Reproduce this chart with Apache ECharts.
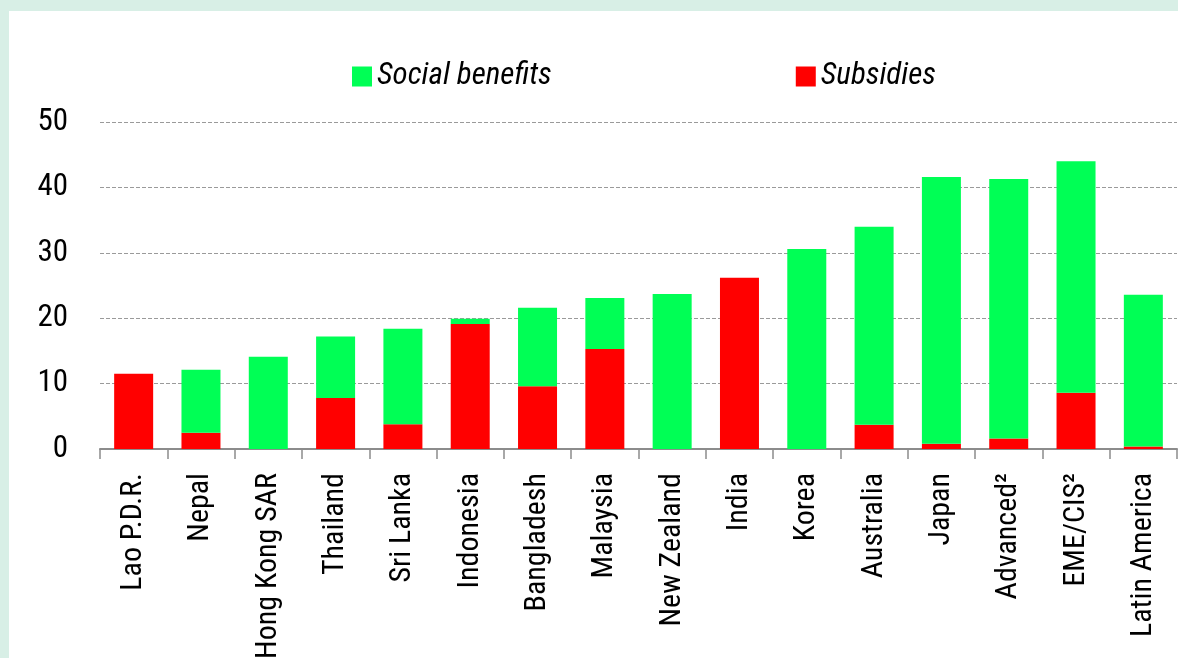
<!DOCTYPE html>
<html>
<head>
<meta charset="utf-8">
<script src="https://cdn.jsdelivr.net/npm/echarts@6/dist/echarts.min.js"></script>
<style>
  html, body { margin: 0; padding: 0; width: 1178px; height: 658px; background: #d8efe6; overflow: hidden; }
  #chart { position: absolute; left: 9px; top: 11px; width: 1169px; height: 647px; background: #ffffff; }
</style>
</head>
<body>
<div id="chart"></div>
<script>
const categories = ['Lao P.D.R.', 'Nepal', 'Hong Kong SAR', 'Thailand', 'Sri Lanka', 'Indonesia', 'Bangladesh', 'Malaysia', 'New Zealand', 'India', 'Korea', 'Australia', 'Japan', 'Advanced\u00B2', 'EME/CIS\u00B2', 'Latin America'];
const subsidies = [11.5, 2.5, 0, 7.8, 3.8, 19.1, 9.6, 15.3, 0, 26.2, 0, 3.7, 0.8, 1.6, 8.6, 0.4];
const socialBenefits = [0, 9.6, 14.1, 9.4, 14.6, 0.8, 12.0, 7.8, 23.7, 0, 30.6, 30.3, 40.8, 39.7, 35.4, 23.2];
const yTicks = [0, 10, 20, 30, 40, 50];

const fontFamily = '"Roboto Condensed", "Roboto", sans-serif';
const chart = echarts.init(document.getElementById('chart'));
chart.setOption({
  animation: false,
  backgroundColor: '#ffffff',
  textStyle: { fontFamily: fontFamily },
  legend: {
    data: ['Social benefits', 'Subsidies'],
    left: 338,
    top: 45,
    itemWidth: 20,
    itemHeight: 20,
    itemGap: 244,
    icon: 'rect',
    textStyle: { fontFamily: fontFamily, fontSize: 31, fontStyle: 'italic', color: '#000', lineHeight: 20 }
  },
  grid: { left: 91, top: 111, right: 1, bottom: 209, containLabel: false, outerBoundsMode: 'none' },
  xAxis: {
    type: 'category',
    data: categories,
    axisLine: { lineStyle: { color: '#8c8c8c', width: 2 } },
    axisTick: { show: true, length: 10, lineStyle: { color: '#8c8c8c', width: 1.5 } },
    axisLabel: { rotate: 90, margin: 24, interval: 0, color: '#000', fontSize: 30, fontFamily: fontFamily }
  },
  yAxis: {
    type: 'value',
    min: yTicks[0],
    max: yTicks[yTicks.length - 1],
    interval: 10,
    axisLine: { show: false },
    axisTick: { show: false },
    axisLabel: { margin: 32, color: '#000', fontSize: 31, fontFamily: fontFamily },
    splitLine: { lineStyle: { color: '#9a9a9a', type: [4, 2], width: 1 } }
  },
  series: [
    {
      name: 'Subsidies', type: 'bar', stack: 'total', data: subsidies,
      barWidth: 39,
      itemStyle: { color: '#ff0000' }
    },
    {
      name: 'Social benefits', type: 'bar', stack: 'total', data: socialBenefits,
      barWidth: 39,
      itemStyle: { color: '#00ff55' }
    }
  ]
});
</script>
</body>
</html>
